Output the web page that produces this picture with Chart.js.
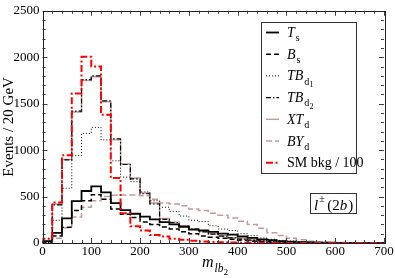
<!DOCTYPE html>
<html><head><meta charset="utf-8">
<script src="https://cdn.jsdelivr.net/npm/chart.js@4/dist/chart.umd.min.js"></script>
<style>html,body{margin:0;padding:0;background:#fff}#wrap{width:395px;height:278px}</style>
</head><body><div id="wrap"><canvas id="c" width="395" height="278"></canvas></div>
<script>
// bin left edges (GeV), 20 GeV bins from 0 to 700
const binEdges = [0,20,40,60,80,100,120,140,160,180,200,220,240,260,280,300,320,340,360,380,400,420,440,460,480,500,520,540,560,580,600,620,640,660,680];
const xMax = 700;
const xTicks = [0,100,200,300,400,500,600,700];
const yTicks = [0,500,1000,1500,2000,2500];

const T_s   = [20,110,265,450,560,610,545,430,355,315,285,255,225,200,175,145,135,120,100,90,70,55,40,30,20,14,10,7,5,3,2,1,1,0,0];
const B_s   = [10,75,170,350,455,520,470,365,310,275,225,200,172,150,120,100,75,62,50,40,30,20,14,9,6,4,3,2,1,1,0,0,0,0,0];
const TB_d1 = [5,245,590,940,1180,1245,1110,885,710,660,550,455,385,340,290,245,230,185,150,135,100,80,55,40,28,20,14,10,7,5,3,2,1,1,0];
const TB_d2 = [15,410,895,1420,1760,1800,1530,1120,845,690,530,420,255,220,180,150,120,95,75,55,42,30,22,15,10,7,5,4,3,2,2,1,1,0,0];
const XT_d  = [18,420,900,1410,1750,1790,1520,1110,850,700,540,430,265,225,185,150,125,100,78,58,44,32,23,16,11,8,5,4,3,2,2,1,1,0,0];
const BY_d  = [10,50,165,280,385,455,500,515,518,518,510,470,430,420,400,365,350,320,300,270,235,200,160,110,80,50,35,20,12,8,5,3,2,1,0];
const SM_bkg = [45,435,945,1610,2005,1900,1380,700,320,180,135,85,70,45,35,25,15,10,8,5,4,3,2,1,1,0,0,0,0,0,0,0,0,0,0];

const FONT = '"Liberation Serif","DejaVu Serif",serif';
const ROSY = '#c49a9a';

function hist(vals){
  const pts = [{x:0,y:0}];
  binEdges.forEach((e,i)=>pts.push({x:e,y:vals[i]}));
  pts.push({x:xMax,y:vals[vals.length-1]});
  return pts;
}

const series = [
  {key:'T_s', data:T_s, color:'#000', width:1.8, dash:[], label:[['T',1,0],['s',0,1]]},
  {key:'B_s', data:B_s, color:'#000', width:1.5, dash:[5,3], label:[['B',1,0],['s',0,1]]},
  {key:'TB_d1', data:TB_d1, color:'#000', width:1, dash:[1,2], label:[['TB',1,0],['d',0,1],['1',0,2]]},
  {key:'TB_d2', data:TB_d2, color:'#000', width:1.2, dash:[5,2,1.5,2], label:[['TB',1,0],['d',0,1],['2',0,2]]},
  {key:'XT_d', data:XT_d, color:ROSY, width:1.4, dash:[], label:[['XT',1,0],['d',0,1]]},
  {key:'BY_d', data:BY_d, color:ROSY, width:1.5, dash:[6,3], label:[['BY',1,0],['d',0,1]]},
  {key:'SM', data:SM_bkg, color:'#ff0000', width:2, dash:[7,2.5,2,2.5], label:[['SM bkg / 100',0,0]]},
];
const drawOrder = {SM:0, T_s:1, B_s:2, TB_d2:3, TB_d1:4, XT_d:5, BY_d:6};

function drawRich(ctx, segs, x, y, base){
  for(const [t,it,lvl] of segs){
    const size = lvl===0?base:(lvl===1?base*0.72:base*0.58);
    const dy = lvl===0?0:(lvl===1?base*0.3:base*0.5);
    ctx.font = (it?'italic ':'')+size+'px '+FONT;
    ctx.fillText(t,x,y+dy);
    x += ctx.measureText(t).width + (lvl===0&&it?1:0);
  }
  return x;
}

const decor = {
  id:'decor',
  afterDraw(chart){
    const ctx = chart.ctx, a = chart.chartArea;
    const xs = chart.scales.x, ys = chart.scales.y;
    ctx.save();
    // ticks inward
    ctx.strokeStyle = '#444'; ctx.lineWidth = 1; ctx.setLineDash([]);
    for(let v=0; v<=700; v+=20){
      const px = Math.round(xs.getPixelForValue(v))+0.5;
      const L = v%100===0?5:3;
      ctx.beginPath();
      ctx.moveTo(px,a.bottom); ctx.lineTo(px,a.bottom-L);
      ctx.moveTo(px,a.top); ctx.lineTo(px,a.top+L);
      ctx.stroke();
    }
    for(let v=0; v<=2500; v+=100){
      const py = Math.round(ys.getPixelForValue(v))+0.5;
      const L = v%500===0?5:3;
      ctx.beginPath();
      ctx.moveTo(a.left,py); ctx.lineTo(a.left+L,py);
      ctx.moveTo(a.right,py); ctx.lineTo(a.right-L,py);
      ctx.stroke();
    }
    ctx.strokeStyle = '#222';
    ctx.strokeRect(Math.round(a.left)+0.5, Math.round(a.top)+0.5, Math.round(a.right-a.left), Math.round(a.bottom-a.top));
    // y title
    ctx.fillStyle = '#000';
    ctx.save();
    ctx.translate(9, (a.top+a.bottom)/2);
    ctx.rotate(-Math.PI/2);
    ctx.textAlign='center'; ctx.textBaseline='middle';
    ctx.font = '15px '+FONT;
    ctx.fillText('Events / 20 GeV',0,0);
    ctx.restore();
    // x title m_{lb_2}
    ctx.textAlign='left'; ctx.textBaseline='alphabetic';
    drawRich(ctx, [['m',1,0],['lb',1,1],['2',0,2]], 202, 267, 16);
    // legend box
    ctx.strokeStyle='#333'; ctx.lineWidth=1;
    ctx.strokeRect(261.5,22.5,95,151);
    series.forEach((s,i)=>{
      const ly = 32.5 + i*21.7;
      ctx.strokeStyle = s.color; ctx.lineWidth = s.width; ctx.setLineDash(s.dash);
      ctx.beginPath(); ctx.moveTo(266,ly); ctx.lineTo(279,ly); ctx.stroke();
      ctx.setLineDash([]);
      ctx.fillStyle='#000';
      drawRich(ctx, s.label, 287, ly+4.5, 14);
    });
    // channel label box
    ctx.strokeStyle='#333'; ctx.lineWidth=1;
    ctx.strokeRect(310.5,193.5,46,20);
    ctx.fillStyle='#000';
    let x = drawRich(ctx, [['l',1,0]], 314, 210, 15);
    ctx.font = '10px '+FONT; ctx.fillText('\u00b1', x, 202);
    x += 8;
    drawRich(ctx, [['(2',0,0],['b',1,0],[')',0,0]], x, 210, 15);
    ctx.restore();
  }
};

new Chart(document.getElementById('c'), {
  type:'line',
  data:{
    datasets: series.map(s=>({
      label:s.key, data:hist(s.data), borderColor:s.color, borderWidth:s.width,
      borderDash:s.dash, stepped:'before', pointRadius:0, fill:false, tension:0,
      order:drawOrder[s.key]
    }))
  },
  options:{
    responsive:false, animation:false, devicePixelRatio:1,
    layout:{padding:{left:0,top:7,right:11,bottom:0}},
    plugins:{legend:{display:false}, tooltip:{enabled:false}},
    scales:{
      x:{type:'linear', min:0, max:xMax,
        afterBuildTicks:(s)=>{s.ticks = xTicks.map(v=>({value:v}));},
        afterFit:(s)=>{s.height=35;},
        grid:{display:false, drawTicks:false}, border:{display:false},
        ticks:{font:{family:FONT,size:13}, color:'#000', padding:1, maxRotation:0, autoSkip:false, callback:(v)=>String(v)}},
      y:{min:0, max:2500,
        afterBuildTicks:(s)=>{s.ticks = yTicks.map(v=>({value:v}));},
        afterFit:(s)=>{s.width=42.5;},
        grid:{display:false, drawTicks:false}, border:{display:false},
        ticks:{font:{family:FONT,size:13}, color:'#000', padding:3, callback:(v)=>String(v)}}
    }
  },
  plugins:[decor]
});
</script></body></html>
